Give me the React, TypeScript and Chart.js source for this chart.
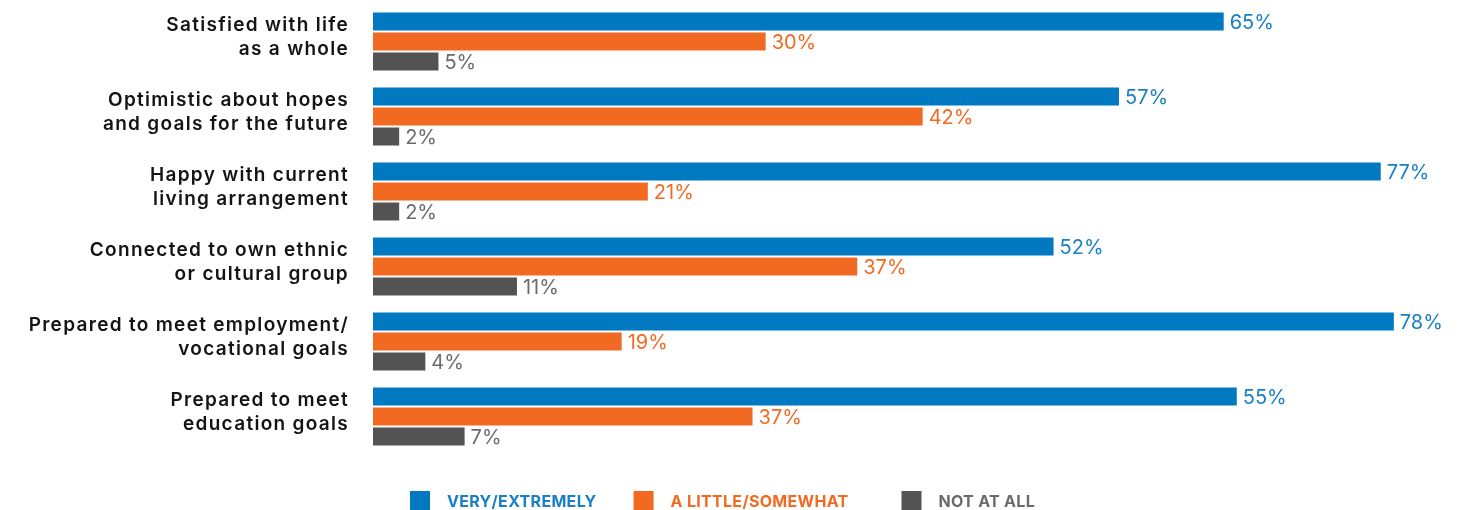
import React, { useEffect, useRef } from "react";
import { Chart, registerables } from "chart.js";

Chart.register(...registerables);

const categories: string[][] = [
  ["Satisfied with life", "as a whole"],
  ["Optimistic about hopes", "and goals for the future"],
  ["Happy with current", "living arrangement"],
  ["Connected to own ethnic", "or cultural group"],
  ["Prepared to meet employment/", "vocational goals"],
  ["Prepared to meet", "education goals"],
];
const seriesNames = ["VERY/EXTREMELY", "A LITTLE/SOMEWHAT", "NOT AT ALL"];
// bar lengths as drawn in the picture
const veryExtremely = [65, 57, 77, 52, 78, 66];
const aLittleSomewhat = [30, 42, 21, 37, 19, 29];
const notAtAll = [5, 2, 2, 11, 4, 7];
// value labels as printed in the picture
const veryExtremelyLabels = ["65%", "57%", "77%", "52%", "78%", "55%"];
const aLittleSomewhatLabels = ["30%", "42%", "21%", "37%", "19%", "37%"];
const notAtAllLabels = ["5%", "2%", "2%", "11%", "4%", "7%"];
const valueLabelSets = [veryExtremelyLabels, aLittleSomewhatLabels, notAtAllLabels];

const barColors = ["#0079C1", "#F26A22", "#535353"];
const textColors = ["#1A80C4", "#F26A22", "#6B6B6B"];
const FONT = "Inter, 'Open Sans', sans-serif";

const tickSpacing = {
  id: "tickSpacing",
  beforeDraw(chart: any) {
    chart.ctx.letterSpacing = "1.3px";
  },
  beforeDatasetsDraw(chart: any) {
    chart.ctx.letterSpacing = "0px";
  },
};

const valueLabels = {
  id: "valueLabels",
  afterDatasetsDraw(chart: any) {
    const ctx = chart.ctx;
    ctx.save();
    ctx.letterSpacing = "0px";
    ctx.font = `400 20px ${FONT}`;
    ctx.textBaseline = "middle";
    ctx.textAlign = "left";
    chart.data.datasets.forEach((_ds: any, i: number) => {
      const meta = chart.getDatasetMeta(i);
      meta.data.forEach((bar: any, j: number) => {
        ctx.fillStyle = textColors[i];
        ctx.fillText(valueLabelSets[i][j], bar.x + 6, bar.y + 1);
      });
    });
    ctx.restore();
  },
};

const customLegend = {
  id: "customLegend",
  afterDraw(chart: any) {
    const ctx = chart.ctx;
    ctx.save();
    ctx.letterSpacing = "0.3px";
    ctx.font = `700 16px ${FONT}`;
    ctx.textBaseline = "middle";
    ctx.textAlign = "left";
    const box = 20;
    const boxGap = 17;
    const itemGaps = [37, 53];
    let x = 410;
    const cy = 501;
    seriesNames.forEach((name, i) => {
      ctx.fillStyle = barColors[i];
      ctx.fillRect(x, cy - box / 2, box, box);
      ctx.fillStyle = textColors[i];
      ctx.fillText(name, x + box + boxGap, cy + 1);
      x += box + boxGap + ctx.measureText(name).width + (itemGaps[i] || 0);
    });
    ctx.restore();
  },
};

export default function App() {
  const ref = useRef<HTMLCanvasElement>(null);
  useEffect(() => {
    document.body.style.margin = "0";
    document.body.style.overflow = "hidden";
    if (!ref.current) return;
    const chart = new Chart(ref.current, {
      type: "bar",
      data: {
        labels: categories,
        datasets: [
          { label: seriesNames[0], data: veryExtremely, backgroundColor: barColors[0] },
          { label: seriesNames[1], data: aLittleSomewhat, backgroundColor: barColors[1] },
          { label: seriesNames[2], data: notAtAll, backgroundColor: barColors[2] },
        ].map((d) => ({ ...d, barPercentage: 0.9, categoryPercentage: 0.8, borderWidth: 0 })),
      },
      options: {
        indexAxis: "y",
        animation: false,
        responsive: false,
        layout: { padding: { top: 4, right: 43, bottom: 56, left: 0 } },
        plugins: {
          legend: { display: false },
          tooltip: { enabled: false },
        },
        scales: {
          x: { display: false, min: 0, max: 80 },
          y: {
            afterFit: (scale: any) => {
              scale.width = 373;
              scale.paddingTop = 0;
              scale.paddingBottom = 0;
            },
            border: { display: false },
            grid: { display: false, drawTicks: false },
            ticks: {
              color: "#141414",
              padding: 24,
              labelOffset: -4.5,
              font: { family: FONT, size: 19, weight: 600, lineHeight: 1.25 },
            },
          },
        },
      },
      plugins: [tickSpacing, valueLabels, customLegend],
    });
    return () => chart.destroy();
  }, []);
  return <canvas ref={ref} width={1463} height={510} style={{ display: "block" }} />;
}
